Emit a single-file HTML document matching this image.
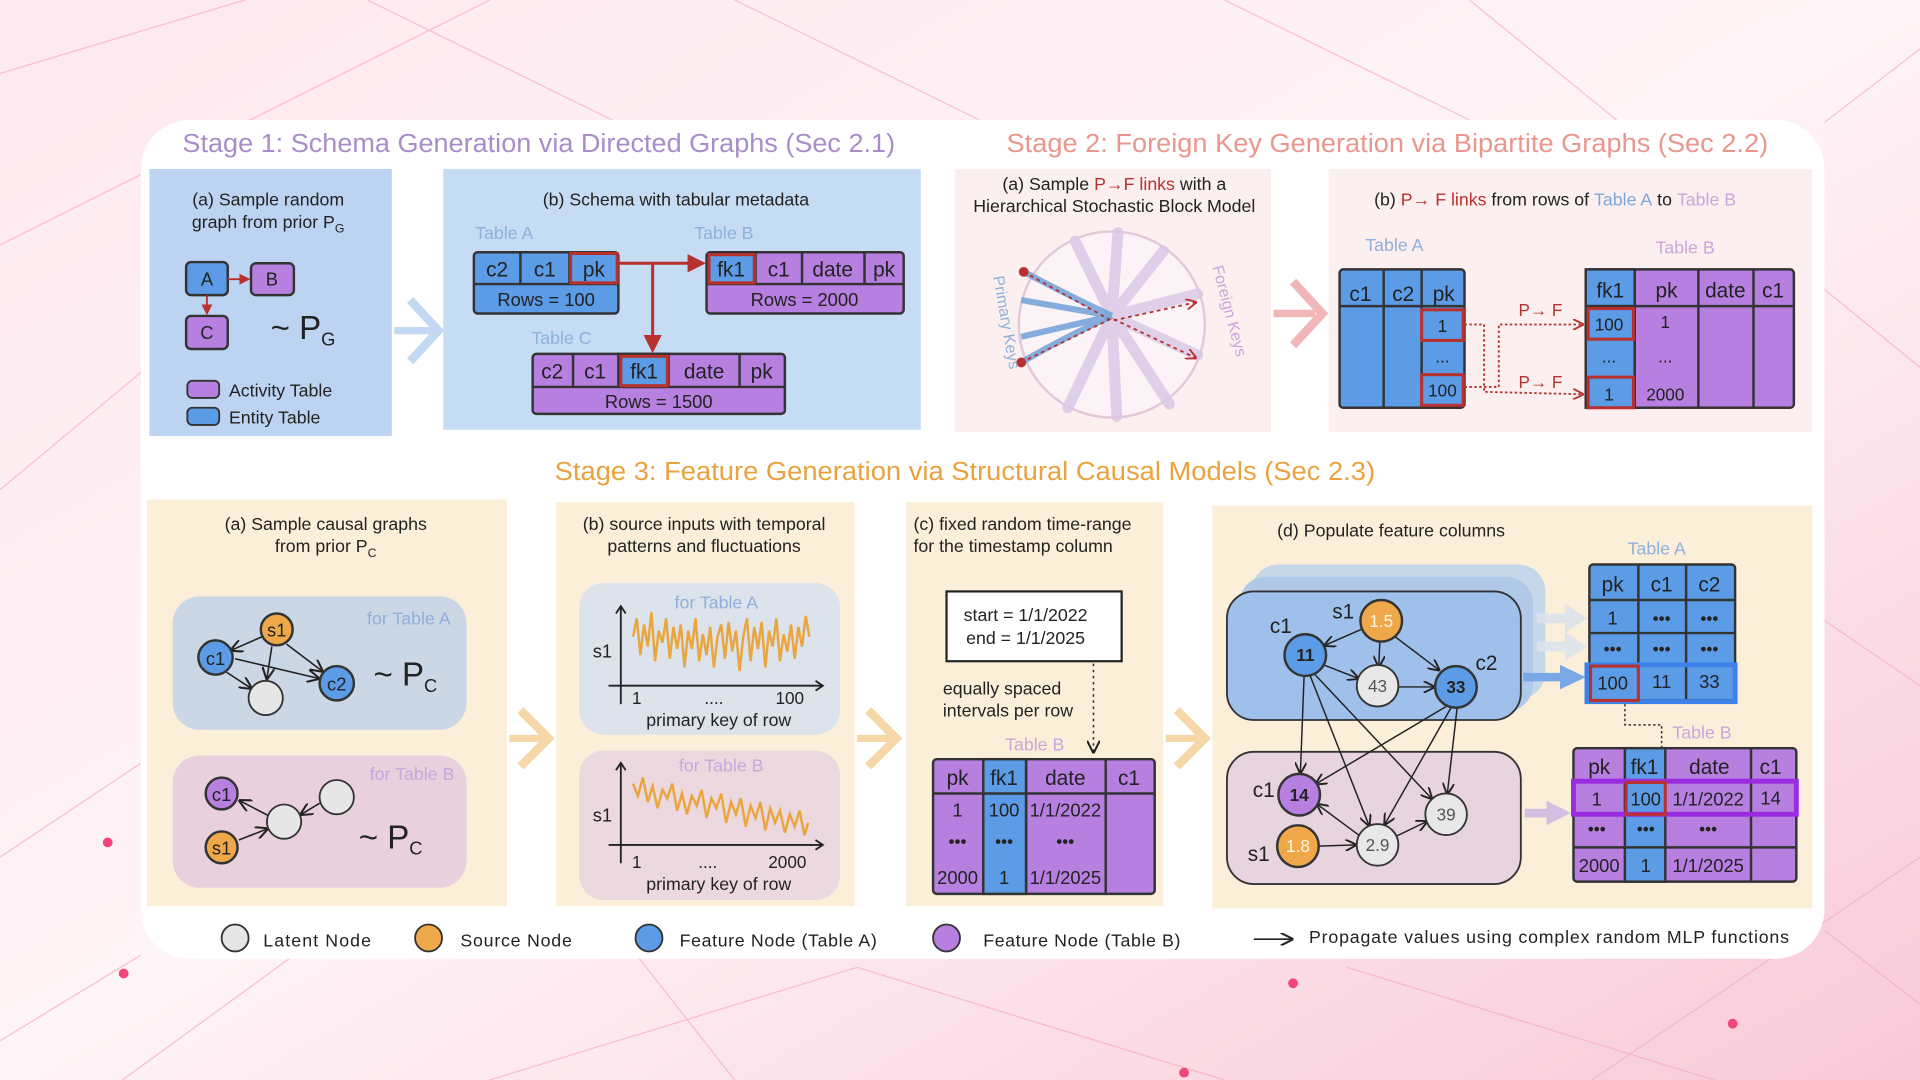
<!DOCTYPE html>
<html><head><meta charset="utf-8"><style>
html,body{margin:0;padding:0;width:1920px;height:1080px;overflow:hidden;background:#fbe6ee}
svg{display:block}
text{font-family:"Liberation Sans",sans-serif;fill:#222}
.t{font-size:14.5px}
.c{text-anchor:middle}
.tb{font-size:17px;text-anchor:middle}
.lab{font-size:14.5px;fill:#8fb0dc}
.labp{font-size:14.5px;fill:#c9a6dc}
.n{font-size:14px;text-anchor:middle}
</style></head><body>
<svg width="1920" height="1080" viewBox="0 0 1568 882" xmlns="http://www.w3.org/2000/svg">
<defs>
<linearGradient id="bg" x1="0" y1="0" x2="1" y2="1"><stop offset="0" stop-color="#fde9ef"/><stop offset="0.5" stop-color="#fff4f7"/><stop offset="1" stop-color="#f8c9d8"/></linearGradient>
<marker id="ar" markerWidth="8" markerHeight="8" refX="7" refY="4" orient="auto"><path d="M0,0 L8,4 L0,8" fill="none" stroke="#222" stroke-width="1.3"/></marker>
<marker id="arr" markerWidth="6" markerHeight="6" refX="5" refY="3" orient="auto"><path d="M0,0 L6,3 L0,6 z" fill="#b8312f"/></marker>
<marker id="ard" markerWidth="6" markerHeight="6" refX="5" refY="3" orient="auto"><path d="M0,0 L6,3 L0,6" fill="none" stroke="#b8312f" stroke-width="1"/></marker>
</defs>
<rect width="1568" height="882" fill="url(#bg)"/>
<g stroke="#f3a9c0" stroke-width="1" opacity="0.7" fill="none">
<path d="M0,60 L200,0 M0,200 L400,0 M100,882 L900,300 M0,700 L300,500 L600,882 M1200,0 L1568,300 M1300,882 L1568,700 M0,400 L120,300 M1490,100 L1568,40 M1480,500 L1568,560 M400,882 L700,790 L1000,882 M1100,790 L1400,882 M0,850 L115,780 M1568,820 L1490,760 M600,0 L800,98 M1000,0 L1200,98 M300,0 L500,98"/>
</g>
<circle cx="88" cy="688" r="4" fill="#f0457a"/><circle cx="101" cy="795" r="4" fill="#f0457a"/><circle cx="1056" cy="803" r="4" fill="#f0457a"/><circle cx="1415" cy="836" r="4" fill="#f0457a"/><circle cx="967" cy="876" r="4" fill="#f0457a"/>
<rect x="115" y="98" width="1375" height="685" rx="40" fill="#fff"/>

<!-- titles -->
<text x="149" y="124" textLength="582" lengthAdjust="spacingAndGlyphs" style="font-size:21px;fill:#a98cca">Stage 1: Schema Generation via Directed Graphs  (Sec 2.1)</text>
<text x="822" y="124" textLength="622" lengthAdjust="spacingAndGlyphs" style="font-size:21px;fill:#e9978c">Stage 2: Foreign Key Generation via Bipartite Graphs (Sec 2.2)</text>
<text x="453" y="392" textLength="670" lengthAdjust="spacingAndGlyphs" style="font-size:21px;fill:#eaa23e">Stage 3: Feature Generation via Structural Causal Models (Sec 2.3)</text>

<!-- 1a -->
<rect x="122" y="138" width="198" height="218" fill="#bcd4f1"/>
<text x="219" y="168" class="t c">(a) Sample random</text>
<text x="219" y="186" class="t c">graph from prior P<tspan style="font-size:10px" dy="4">G</tspan></text>
<rect x="152" y="214" width="34" height="27" rx="4" fill="#5c9be6" stroke="#333" stroke-width="2"/><text x="169" y="233" class="tb" style="font-size:15px">A</text>
<rect x="205" y="215" width="35" height="26" rx="4" fill="#b67fe0" stroke="#333" stroke-width="2"/><text x="222" y="233" class="tb" style="font-size:15px">B</text>
<rect x="152" y="258" width="34" height="27" rx="4" fill="#b67fe0" stroke="#333" stroke-width="2"/><text x="169" y="277" class="tb" style="font-size:15px">C</text>
<line x1="186" y1="228" x2="203" y2="228" stroke="#b8312f" stroke-width="1.5" marker-end="url(#arr)"/>
<line x1="169" y1="241" x2="169" y2="256" stroke="#b8312f" stroke-width="1.5" marker-end="url(#arr)"/>
<text x="221" y="277" style="font-size:27px">~ P<tspan style="font-size:15px" dy="5">G</tspan></text>
<rect x="153" y="311" width="26" height="14" rx="4" fill="#b67fe0" stroke="#333" stroke-width="1.5"/><text x="187" y="324" class="t">Activity Table</text>
<rect x="153" y="333" width="26" height="14" rx="4" fill="#5c9be6" stroke="#333" stroke-width="1.5"/><text x="187" y="346" class="t">Entity Table</text>
<path d="M322,270 L355,270" stroke="#c3d8f2" stroke-width="6"/>
<path d="M335,245 L358,270 L335,295" fill="none" stroke="#c3d8f2" stroke-width="7"/>

<!-- 1b -->
<rect x="362" y="138" width="390" height="213" fill="#c6dcf5"/>
<text x="552" y="168" class="t c">(b) Schema with tabular metadata</text>
<text x="388" y="195" class="lab">Table A</text><text x="567" y="195" class="lab">Table B</text><text x="434" y="281" class="lab">Table C</text>
<g stroke="#333" stroke-width="2">
<rect x="387" y="206" width="118" height="50" rx="3" fill="#5c9be6"/>
<line x1="387" y1="232" x2="505" y2="232"/><line x1="425" y1="206" x2="425" y2="232"/><line x1="465" y1="206" x2="465" y2="232"/>
<rect x="577" y="206" width="161" height="50" rx="3" fill="#b67fe0"/>
<line x1="577" y1="232" x2="738" y2="232"/><line x1="617" y1="206" x2="617" y2="232"/><line x1="655" y1="206" x2="655" y2="232"/><line x1="706" y1="206" x2="706" y2="232"/>
<rect x="435" y="289" width="206" height="49" rx="3" fill="#b67fe0"/>
<rect x="505" y="289" width="41" height="27" fill="#5c9be6"/>
<line x1="435" y1="316" x2="641" y2="316"/><line x1="468" y1="289" x2="468" y2="316"/><line x1="604" y1="289" x2="604" y2="316"/>
</g>
<rect x="578" y="207" width="38" height="24" fill="#5c9be6"/>
<g fill="none" stroke="#b8312f" stroke-width="2.5"><rect x="466" y="207" width="38" height="24"/><rect x="579" y="208" width="37" height="23"/><rect x="507" y="291" width="38" height="24"/></g>
<line x1="505" y1="215" x2="574" y2="215" stroke="#b8312f" stroke-width="2.5" marker-end="url(#arr)"/>
<polyline points="533,215 533,286" fill="none" stroke="#b8312f" stroke-width="2.5" marker-end="url(#arr)"/>
<g class="tb"><text x="406" y="226" class="tb">c2</text><text x="445" y="226" class="tb">c1</text><text x="485" y="226" class="tb">pk</text><text x="446" y="250" class="tb" style="font-size:15px">Rows = 100</text>
<text x="597" y="226" class="tb">fk1</text><text x="636" y="226" class="tb">c1</text><text x="680" y="226" class="tb">date</text><text x="722" y="226" class="tb">pk</text><text x="657" y="250" class="tb" style="font-size:15px">Rows = 2000</text>
<text x="451" y="309" class="tb">c2</text><text x="486" y="309" class="tb">c1</text><text x="526" y="309" class="tb">fk1</text><text x="575" y="309" class="tb">date</text><text x="622" y="309" class="tb">pk</text><text x="538" y="333" class="tb" style="font-size:15px">Rows = 1500</text></g>

<!-- 2a -->
<rect x="780" y="138" width="258" height="215" fill="#fcefef"/>
<text x="910" y="155" class="t c">(a) Sample <tspan style="fill:#b8312f">P→F links</tspan> with a</text>
<text x="910" y="173" class="t c">Hierarchical Stochastic Block Model</text>
<circle cx="908" cy="265" r="76" fill="#fbf3f6" stroke="#e2c8d8" stroke-width="2"/>
<g stroke="#d9c8e6" stroke-width="9" stroke-linecap="round" fill="none" opacity="0.85">
<path d="M908,258 L878,197 M908,258 L913,190 M908,258 L950,205 M908,258 L978,240 M908,258 L978,290 M908,258 L955,330 M908,258 L912,340 M908,258 L872,333"/>
</g>
<g stroke="#6f9fd8" stroke-width="5" fill="none" opacity="0.85">
<path d="M836,222 Q870,240 908,258 M834,245 L908,258 M834,275 L908,258 M834,296 Q870,275 908,258"/>
</g>
<g stroke="#b8312f" stroke-width="1.5" stroke-dasharray="3,3" fill="none">
<path d="M836,222 L908,262 L976,247" marker-end="url(#ard)"/><path d="M834,296 L908,260 L976,292" marker-end="url(#ard)"/>
</g>
<circle cx="836" cy="222" r="4" fill="#b8312f"/><circle cx="834" cy="296" r="4" fill="#b8312f"/>
<text transform="translate(811,226) rotate(80)" style="font-size:13px;fill:#8fb0dc">Primary Keys</text>
<text transform="translate(990,218) rotate(75)" style="font-size:13px;fill:#c9a6dc">Foreign Keys</text>
<path d="M1040,256 L1074,256" stroke="#f1b6b8" stroke-width="6"/>
<path d="M1056,230 L1080,256 L1056,282" fill="none" stroke="#f1b6b8" stroke-width="7"/>

<!-- 2b -->
<rect x="1085" y="138" width="395" height="215" fill="#fcefef"/>
<text x="1270" y="168" class="t c">(b) <tspan style="fill:#b8312f">P→ F links</tspan> from rows of <tspan style="fill:#7fa7dc">Table A</tspan> to <tspan style="fill:#c9a6dc">Table B</tspan></text>
<text x="1115" y="205" class="lab">Table A</text><text x="1352" y="207" class="labp">Table B</text>
<g stroke="#333" stroke-width="2">
<rect x="1094" y="220" width="102" height="113" rx="3" fill="#5c9be6"/>
<line x1="1094" y1="250" x2="1196" y2="250"/><line x1="1130" y1="220" x2="1130" y2="333"/><line x1="1161" y1="220" x2="1161" y2="333"/>
<rect x="1295" y="220" width="170" height="113" rx="3" fill="#b67fe0"/>
<rect x="1295" y="250" width="40" height="83" fill="#5c9be6"/><rect x="1295" y="220" width="40" height="30" fill="#5c9be6"/>
<line x1="1295" y1="250" x2="1465" y2="250"/><line x1="1387" y1="220" x2="1387" y2="333"/><line x1="1432" y1="220" x2="1432" y2="333"/><line x1="1335" y1="220" x2="1335" y2="333"/>
</g>
<g fill="none" stroke="#b8312f" stroke-width="2.5"><rect x="1161" y="253" width="34" height="25"/><rect x="1161" y="306" width="34" height="25"/><rect x="1297" y="252" width="37" height="25"/><rect x="1297" y="308" width="37" height="25"/></g>
<g stroke="#b8312f" stroke-width="1.5" stroke-dasharray="2,2" fill="none">
<path d="M1196,265 L1212,265 L1212,320 L1292,322" marker-end="url(#ard)"/><path d="M1196,316 L1224,316 L1224,265 L1292,265" marker-end="url(#ard)"/>
</g>
<text x="1258" y="258" class="n" style="fill:#b8312f">P→ F</text><text x="1258" y="317" class="n" style="fill:#b8312f">P→ F</text>
<g><text x="1111" y="246" class="tb">c1</text><text x="1146" y="246" class="tb">c2</text><text x="1179" y="246" class="tb">pk</text>
<text x="1178" y="271" class="n">1</text><text x="1178" y="296" class="n">...</text><text x="1178" y="324" class="n">100</text>
<text x="1315" y="243" class="tb">fk1</text><text x="1361" y="243" class="tb">pk</text><text x="1409" y="243" class="tb">date</text><text x="1448" y="243" class="tb">c1</text>
<text x="1314" y="270" class="n">100</text><text x="1360" y="268" class="n">1</text><text x="1314" y="296" class="n">...</text><text x="1360" y="296" class="n">...</text><text x="1314" y="327" class="n">1</text><text x="1360" y="327" class="n">2000</text></g>

<!-- 3a -->
<rect x="120" y="408" width="294" height="332" fill="#fcefd9"/>
<text x="266" y="433" class="t c">(a) Sample causal graphs</text>
<text x="266" y="451" class="t c">from prior P<tspan style="font-size:10px" dy="4">C</tspan></text>
<rect x="141" y="487" width="240" height="109" rx="22" fill="#ccd7e5"/>
<text x="368" y="510" class="lab" style="text-anchor:end">for Table A</text>
<g stroke="#222" stroke-width="1.3" marker-end="url(#ar)">
<line x1="214" y1="520" x2="189" y2="531"/><line x1="222" y1="528" x2="218" y2="554"/><line x1="234" y1="526" x2="263" y2="548"/><line x1="185" y1="549" x2="205" y2="562"/><line x1="192" y1="538" x2="260" y2="554"/>
</g>
<circle cx="176" cy="537" r="14" fill="#5c9be6" stroke="#333" stroke-width="2"/><text x="176" y="543" class="n" style="font-size:15px">c1</text>
<circle cx="226" cy="514" r="13" fill="#eea84a" stroke="#333" stroke-width="2"/><text x="226" y="520" class="n" style="font-size:15px">s1</text>
<circle cx="275" cy="558" r="14" fill="#5c9be6" stroke="#333" stroke-width="2"/><text x="275" y="564" class="n" style="font-size:15px">c2</text>
<circle cx="217" cy="570" r="14" fill="#e6e6e6" stroke="#333" stroke-width="1.5"/>
<text x="305" y="560" style="font-size:27px">~ P<tspan style="font-size:15px" dy="5">C</tspan></text>
<rect x="141" y="617" width="240" height="108" rx="22" fill="#ead0dd"/>
<text x="371" y="637" class="labp" style="text-anchor:end">for Table B</text>
<g stroke="#222" stroke-width="1.3" marker-end="url(#ar)">
<line x1="219" y1="666" x2="196" y2="654"/><line x1="195" y1="686" x2="218" y2="677"/><line x1="261" y1="656" x2="246" y2="665"/>
</g>
<circle cx="181" cy="648" r="13" fill="#b67fe0" stroke="#333" stroke-width="2"/><text x="181" y="654" class="n" style="font-size:15px">c1</text>
<circle cx="181" cy="692" r="13" fill="#eea84a" stroke="#333" stroke-width="2"/><text x="181" y="698" class="n" style="font-size:15px">s1</text>
<circle cx="232" cy="671" r="14" fill="#e6e6e6" stroke="#333" stroke-width="1.5"/>
<circle cx="275" cy="651" r="14" fill="#e6e6e6" stroke="#333" stroke-width="1.5"/>
<text x="293" y="693" style="font-size:27px">~ P<tspan style="font-size:15px" dy="5">C</tspan></text>
<g stroke="#f6d8a8" fill="none">
<path d="M416,603 L446,603" stroke-width="6"/><path d="M425,580 L448,603 L425,626" stroke-width="7"/>
<path d="M700,603 L730,603" stroke-width="6"/><path d="M709,580 L732,603 L709,626" stroke-width="7"/>
<path d="M952,603 L982,603" stroke-width="6"/><path d="M961,580 L984,603 L961,626" stroke-width="7"/>
</g>

<!-- 3b -->
<rect x="454" y="410" width="244" height="330" fill="#fcefd9"/>
<text x="575" y="433" class="t c">(b) source inputs with temporal</text>
<text x="575" y="451" class="t c">patterns and fluctuations</text>
<rect x="473" y="476" width="213" height="124" rx="20" fill="#dde3ea"/>
<text x="585" y="497" class="lab c">for Table A</text>
<g stroke="#222" stroke-width="1.5" fill="none"><path d="M507,575 L507,495 M503,501 L507,495 L511,501"/><path d="M497,560 L672,560 M666,556 L672,560 L666,564"/></g>
<polyline fill="none" stroke="#eaa53e" stroke-width="2" points="517,520 520,505 523,535 526,510 529,528 532,500 535,540 538,515 541,525 544,505 547,538 550,512 553,530 556,510 559,545 562,515 565,530 568,505 571,540 574,518 577,535 580,512 583,545 586,520 589,510 592,538 595,508 598,532 601,515 604,548 607,520 610,505 613,540 616,512 619,530 622,508 625,545 628,515 631,528 634,505 637,540 640,518 643,532 646,510 649,538 652,512 655,528 658,503 661,520"/>
<text x="492" y="537" class="tb" style="font-size:15px">s1</text>
<text x="520" y="575" class="n">1</text><text x="583" y="575" class="n">....</text><text x="645" y="575" class="n">100</text>
<text x="587" y="593" class="t c">primary key of row</text>
<rect x="473" y="613" width="213" height="122" rx="20" fill="#ecd9df"/>
<text x="589" y="630" class="labp c">for Table B</text>
<g stroke="#222" stroke-width="1.5" fill="none"><path d="M507,705 L507,623 M503,629 L507,623 L511,629"/><path d="M497,690 L672,690 M666,686 L672,690 L666,694"/></g>
<polyline fill="none" stroke="#eaa53e" stroke-width="2" points="517,640 521,650 525,635 529,655 533,642 537,660 541,645 545,652 549,640 553,662 557,648 561,665 565,650 569,658 573,645 577,668 581,652 585,660 589,648 593,672 597,655 601,665 605,652 609,675 613,658 617,668 621,655 625,678 629,660 633,672 637,662 641,680 645,665 649,675 653,662 657,682 660,672"/>
<text x="492" y="671" class="tb" style="font-size:15px">s1</text>
<text x="520" y="709" class="n">1</text><text x="578" y="709" class="n">....</text><text x="643" y="709" class="n">2000</text>
<text x="587" y="727" class="t c">primary key of row</text>

<!-- 3c -->
<rect x="740" y="410" width="210" height="330" fill="#fcefd9"/>
<text x="746" y="433" class="t">(c) fixed random time-range</text>
<text x="746" y="451" class="t">for the timestamp column</text>
<rect x="773" y="483" width="143" height="57" fill="#fff" stroke="#222" stroke-width="1.8"/>
<text x="787" y="507" class="t">start = 1/1/2022</text><text x="789" y="526" class="t">end  = 1/1/2025</text>
<text x="770" y="567" class="t">equally spaced</text><text x="770" y="585" class="t">intervals per row</text>
<line x1="893" y1="542" x2="893" y2="614" stroke="#333" stroke-width="1.3" stroke-dasharray="2,3" marker-end="url(#ar)"/>
<text x="845" y="613" class="labp c">Table B</text>
<g stroke="#333" stroke-width="2">
<rect x="762" y="620" width="181" height="110" rx="3" fill="#b67fe0"/>
<rect x="803" y="620" width="35" height="110" fill="#5c9be6"/>
<line x1="762" y1="648" x2="943" y2="648"/><line x1="838" y1="620" x2="838" y2="730"/><line x1="903" y1="620" x2="903" y2="730"/>
</g>
<text x="782" y="641" class="tb">pk</text><text x="820" y="641" class="tb">fk1</text><text x="870" y="641" class="tb">date</text><text x="922" y="641" class="tb">c1</text>
<text x="782" y="667" class="n" style="font-size:15px">1</text><text x="820" y="667" class="n" style="font-size:15px">100</text><text x="870" y="667" class="n" style="font-size:15px">1/1/2022</text>
<text x="782" y="692" class="n">•••</text><text x="820" y="692" class="n">•••</text><text x="870" y="692" class="n">•••</text>
<text x="782" y="722" class="n" style="font-size:15px">2000</text><text x="820" y="722" class="n" style="font-size:15px">1</text><text x="870" y="722" class="n" style="font-size:15px">1/1/2025</text>

<!-- 3d -->
<rect x="990" y="413" width="490" height="329" fill="#fcefd9"/>
<text x="1043" y="438" class="t">(d) Populate feature columns</text>
<rect x="1022" y="461" width="240" height="110" rx="22" fill="#c6d7ea"/>
<rect x="1012" y="471" width="240" height="110" rx="22" fill="#b0c9e8"/>
<rect x="1002" y="483" width="240" height="105" rx="22" fill="#9fc0ea" stroke="#333" stroke-width="1.5"/>
<rect x="1002" y="614" width="240" height="108" rx="22" fill="#e7d4de" stroke="#333" stroke-width="1.5"/>
<g fill="#dde3ec" opacity="0.9">
<path d="M1255,501 L1278,501 L1278,493 L1296,505 L1278,517 L1278,509 L1255,509 z"/>
<path d="M1255,524 L1278,524 L1278,516 L1296,528 L1278,540 L1278,532 L1255,532 z"/>
</g>
<path d="M1244,553 L1276,553" stroke="#7aa7e6" stroke-width="7"/><path d="M1274,543 L1295,553 L1274,563 z" fill="#7aa7e6"/>
<path d="M1245,664 L1265,664" stroke="#d3bfe2" stroke-width="7"/><path d="M1263,654 L1283,664 L1263,674 z" fill="#d3bfe2"/>
<g stroke="#222" stroke-width="1.2" marker-end="url(#ar)">
<line x1="1114" y1="513" x2="1082" y2="527"/><line x1="1127" y1="521" x2="1126" y2="544"/><line x1="1138" y1="519" x2="1175" y2="547"/>
<line x1="1081" y1="543" x2="1109" y2="554"/><line x1="1142" y1="561" x2="1171" y2="561"/>
<line x1="1065" y1="552" x2="1062" y2="631"/><line x1="1070" y1="552" x2="1118" y2="674"/><line x1="1074" y1="551" x2="1169" y2="652"/>
<line x1="1181" y1="577" x2="1075" y2="640"/><line x1="1185" y1="578" x2="1131" y2="673"/><line x1="1190" y1="578" x2="1182" y2="648"/>
<line x1="1111" y1="683" x2="1076" y2="657"/><line x1="1077" y1="691" x2="1107" y2="690"/><line x1="1140" y1="683" x2="1165" y2="671"/>
</g>
<circle cx="1066" cy="535" r="17" fill="#5c9be6" stroke="#333" stroke-width="2"/><text x="1066" y="540" class="n" style="font-weight:bold">11</text>
<circle cx="1128" cy="507" r="17" fill="#eea84a" stroke="#333" stroke-width="2"/><text x="1128" y="512" class="n" style="fill:#fff5e0">1.5</text>
<circle cx="1125" cy="560" r="17" fill="#e8e8e8" stroke="#333" stroke-width="1.5"/><text x="1125" y="565" class="n" style="fill:#555">43</text>
<circle cx="1189" cy="561" r="17" fill="#5c9be6" stroke="#333" stroke-width="2"/><text x="1189" y="566" class="n" style="font-weight:bold">33</text>
<circle cx="1061" cy="649" r="17" fill="#b67fe0" stroke="#333" stroke-width="2"/><text x="1061" y="654" class="n" style="font-weight:bold">14</text>
<circle cx="1181" cy="665" r="17" fill="#e8e8e8" stroke="#333" stroke-width="1.5"/><text x="1181" y="670" class="n" style="fill:#555">39</text>
<circle cx="1125" cy="690" r="17" fill="#e8e8e8" stroke="#333" stroke-width="1.5"/><text x="1125" y="695" class="n" style="fill:#555">2.9</text>
<circle cx="1060" cy="691" r="17" fill="#eea84a" stroke="#333" stroke-width="2"/><text x="1060" y="696" class="n" style="fill:#fff5e0">1.8</text>
<text x="1046" y="517" class="tb">c1</text><text x="1097" y="505" class="tb">s1</text><text x="1214" y="547" class="tb">c2</text>
<text x="1032" y="651" class="tb">c1</text><text x="1028" y="703" class="tb">s1</text>
<text x="1353" y="453" class="lab c">Table A</text>
<g stroke="#333" stroke-width="2">
<rect x="1298" y="461" width="119" height="111" rx="3" fill="#5c9be6"/>
<line x1="1298" y1="490" x2="1417" y2="490"/><line x1="1298" y1="517" x2="1417" y2="517"/><line x1="1298" y1="543" x2="1417" y2="543"/>
<line x1="1338" y1="461" x2="1338" y2="572"/><line x1="1377" y1="461" x2="1377" y2="572"/>
</g>
<rect x="1296" y="543" width="121" height="30" fill="none" stroke="#3d82ea" stroke-width="4"/>
<rect x="1299" y="544" width="39" height="28" fill="none" stroke="#b8312f" stroke-width="2.5"/>
<text x="1317" y="483" class="tb">pk</text><text x="1357" y="483" class="tb">c1</text><text x="1396" y="483" class="tb">c2</text>
<text x="1317" y="510" class="n" style="font-size:15px">1</text><text x="1357" y="510" class="n">•••</text><text x="1396" y="510" class="n">•••</text>
<text x="1317" y="535" class="n">•••</text><text x="1357" y="535" class="n">•••</text><text x="1396" y="535" class="n">•••</text>
<text x="1317" y="563" class="n" style="font-size:15px">100</text><text x="1357" y="562" class="n" style="font-size:15px">11</text><text x="1396" y="562" class="n" style="font-size:15px">33</text>
<polyline points="1327,575 1327,592 1357,592 1357,614" fill="none" stroke="#333" stroke-width="1.2" stroke-dasharray="2,2"/>
<text x="1390" y="603" class="labp c">Table B</text>
<g stroke="#333" stroke-width="2">
<rect x="1285" y="611" width="182" height="109" rx="3" fill="#b67fe0"/>
<rect x="1327" y="611" width="33" height="109" fill="#5c9be6"/>
<line x1="1285" y1="638" x2="1467" y2="638"/><line x1="1285" y1="692" x2="1467" y2="692"/><line x1="1430" y1="611" x2="1430" y2="720"/>
</g>
<rect x="1285" y="638" width="182" height="27" fill="none" stroke="#9a2be0" stroke-width="4"/>
<rect x="1328" y="639" width="32" height="26" fill="none" stroke="#b8312f" stroke-width="2.5"/>
<text x="1306" y="632" class="tb">pk</text><text x="1343" y="632" class="tb">fk1</text><text x="1396" y="632" class="tb">date</text><text x="1446" y="632" class="tb">c1</text>
<text x="1304" y="658" class="n" style="font-size:15px">1</text><text x="1344" y="658" class="n" style="font-size:15px">100</text><text x="1395" y="658" class="n" style="font-size:15px">1/1/2022</text><text x="1446" y="657" class="n" style="font-size:15px">14</text>
<text x="1304" y="682" class="n">•••</text><text x="1344" y="682" class="n">•••</text><text x="1395" y="682" class="n">•••</text>
<text x="1306" y="712" class="n" style="font-size:15px">2000</text><text x="1344" y="712" class="n" style="font-size:15px">1</text><text x="1395" y="712" class="n" style="font-size:15px">1/1/2025</text>

<!-- legend -->
<circle cx="192" cy="766" r="11" fill="#e6e6e6" stroke="#333" stroke-width="1.5"/><text x="215" y="773" class="t" textLength="88">Latent Node</text>
<circle cx="350" cy="766" r="11" fill="#eea84a" stroke="#333" stroke-width="1.5"/><text x="376" y="773" class="t" textLength="91">Source Node</text>
<circle cx="530" cy="766" r="11" fill="#5c9be6" stroke="#333" stroke-width="1.5"/><text x="555" y="773" class="t" textLength="161">Feature Node (Table A)</text>
<circle cx="773" cy="766" r="11" fill="#b67fe0" stroke="#333" stroke-width="1.5"/><text x="803" y="773" class="t" textLength="161">Feature Node (Table B)</text>
<line x1="1024" y1="767" x2="1055" y2="767" stroke="#222" stroke-width="1.3" marker-end="url(#ar)"/>
<text x="1069" y="770" class="t" textLength="392">Propagate values using complex random MLP functions</text>
</svg>
</body></html>
